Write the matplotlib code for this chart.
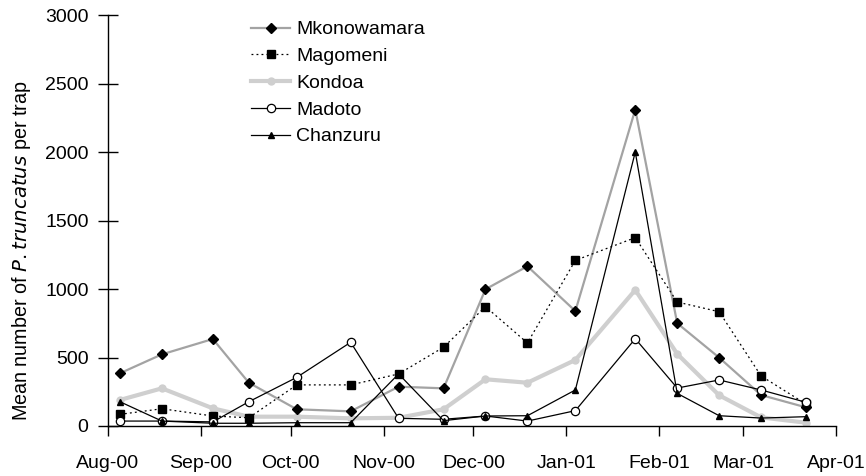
import pandas as pd
import matplotlib
matplotlib.use('Agg')
import matplotlib.pyplot as plt
import matplotlib.dates as mdates

plt.rcParams['font.family'] = ['Liberation Sans', 'DejaVu Sans']

# sampling dates and mean trap catches per site
dates = ['2000-08-05', '2000-08-19', '2000-09-05', '2000-09-17', '2000-10-03', '2000-10-21',
         '2000-11-06', '2000-11-21', '2000-12-05', '2000-12-19', '2001-01-04', '2001-01-24',
         '2001-02-07', '2001-02-21', '2001-03-07', '2001-03-22']
mkonowamara = [385, 523, 635, 316, 122, 107, 287, 275, 998, 1166, 839, 2310, 750, 499, 226, 136]
magomeni = [85, 126, 73, 60, 300, 300, 380, 575, 871, 606, 1209, 1375, 905, 834, 365, 160]
kondoa = [190, 275, 129, 68, 68, 56, 60, 122, 341, 316, 482, 993, 526, 224, 63, 24]
madoto = [36, 36, 30, 177, 355, 611, 56, 49, 73, 36, 112, 637, 277, 336, 263, 173]
chanzuru = [177, 36, 20, 20, 24, 24, 380, 39, 73, 75, 263, 2000, 238, 75, 58, 68]

x = pd.to_datetime(dates)

fig, ax = plt.subplots(figsize=(8.66, 4.76), dpi=100)
fig.subplots_adjust(left=108/866, right=836/866, bottom=1-426/476, top=1-15/476)

ax.plot(x, mkonowamara, color='#a3a3a3', lw=1.6, marker='D', ms=5.5,
        mfc='black', mec='black', label='Mkonowamara', zorder=3)
ax.plot(x, magomeni, color='black', lw=0.9, ls=(0, (1.5, 2.5)), marker='s', ms=6,
        mfc='black', mec='black', label='Magomeni', zorder=4)
ax.plot(x, kondoa, color='#cfcfcf', lw=3.0, marker='o', ms=5,
        mfc='#cfcfcf', mec='#cfcfcf', label='Kondoa', zorder=2)
ax.plot(x, madoto, color='black', lw=0.9, marker='o', ms=6,
        mfc='white', mec='black', mew=0.9, label='Madoto', zorder=5)
ax.plot(x, chanzuru, color='black', lw=0.9, marker='^', ms=5,
        mfc='black', mec='black', label='Chanzuru', zorder=6)

ax.set_xlim(pd.Timestamp('2000-08-01'), pd.Timestamp('2001-04-01'))
ax.set_ylim(0, 3000)
ax.set_yticks([0, 500, 1000, 1500, 2000, 2500, 3000])
ax.xaxis.set_major_locator(mdates.MonthLocator())
ax.xaxis.set_major_formatter(mdates.DateFormatter('%b-%y'))

for side in ['top', 'right']:
    ax.spines[side].set_visible(False)
for side in ['left', 'bottom']:
    ax.spines[side].set_linewidth(1.0)
ax.tick_params(axis='y', direction='inout', length=14, width=1.0, labelsize=14, pad=7)
ax.tick_params(axis='x', direction='out', length=7, width=1.0, labelsize=14, pad=14)

ax.set_ylabel('Mean number of $\\it{P. truncatus}$ per trap', fontsize=14.2)
ax.yaxis.set_label_coords(-0.103, 0.426)

ax.legend(loc='upper left', bbox_to_anchor=(0.186, 1.005), frameon=False, fontsize=14,
          handlelength=2.0, handletextpad=0.3, labelspacing=0.47, borderaxespad=0)

fig.savefig('out.png', dpi=100)
